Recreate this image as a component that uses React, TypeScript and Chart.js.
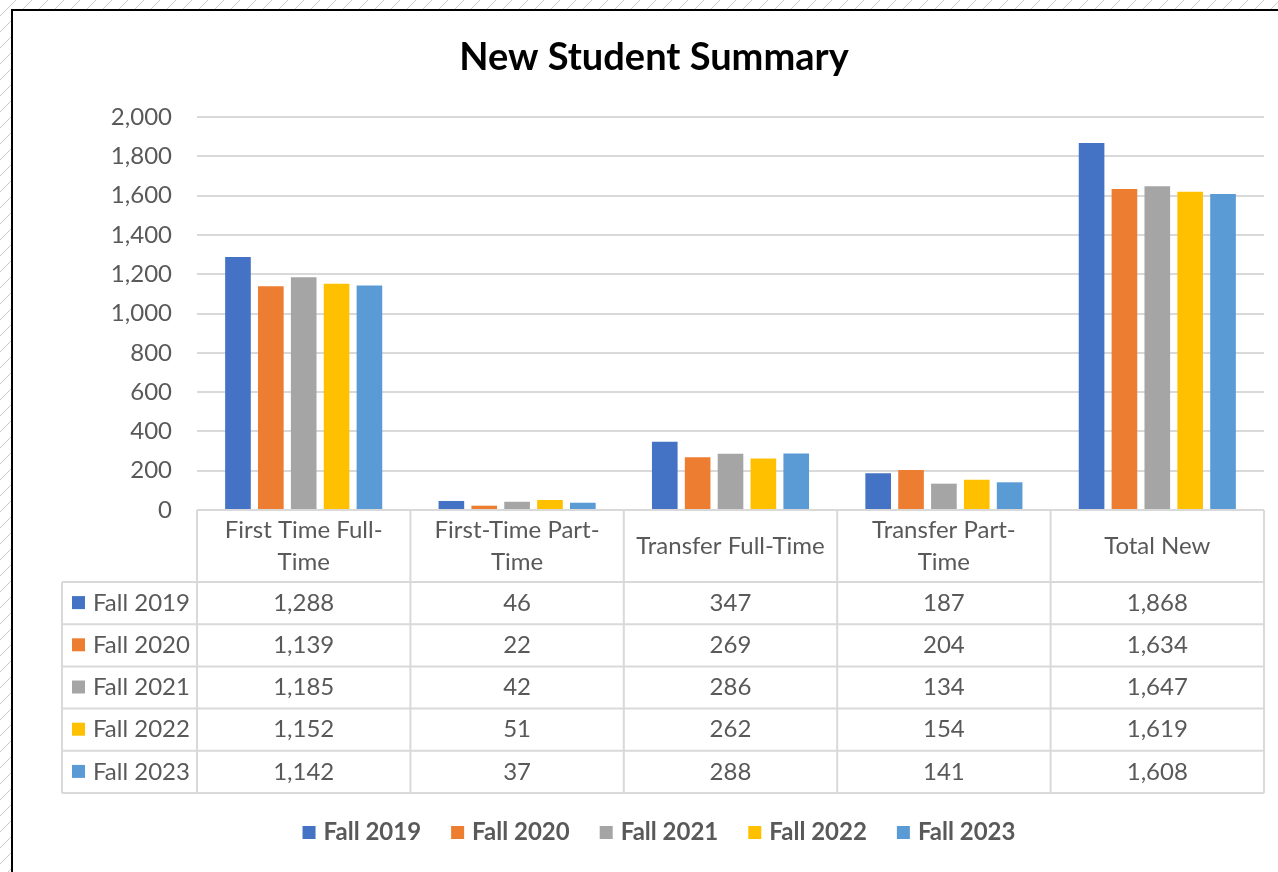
import React, { useEffect, useRef } from "react";
import { Chart, registerables } from "chart.js";

Chart.register(...registerables);

// ---------- data ----------
const chartTitle = "New Student Summary";
const categories: (string | string[])[] = [
  ["First Time Full-", "Time"],
  ["First-Time Part-", "Time"],
  "Transfer Full-Time",
  ["Transfer Part-", "Time"],
  "Total New",
];
const seriesNames = ["Fall 2019", "Fall 2020", "Fall 2021", "Fall 2022", "Fall 2023"];
const fall2019 = [1288, 46, 347, 187, 1868];
const fall2020 = [1139, 22, 269, 204, 1634];
const fall2021 = [1185, 42, 286, 134, 1647];
const fall2022 = [1152, 51, 262, 154, 1619];
const fall2023 = [1142, 37, 288, 141, 1608];
const seriesValues = [fall2019, fall2020, fall2021, fall2022, fall2023];
const seriesColors = ["#4472C4", "#ED7D31", "#A5A5A5", "#FFC000", "#5B9BD5"];
const yMin = 0;
const yMax = 2000;
const yStep = 200;

// ---------- style ----------
const W = 1278;
const H = 872;
const FONT = "Lato, 'Open Sans', sans-serif";
const TEXT = "#595959";
const LINE = "#d9d9d9";

const fmt = (v: number) => v.toLocaleString("en-US");

const framePlugin = {
  id: "frame",
  beforeDraw(chart: any) {
    const ctx = chart.ctx as CanvasRenderingContext2D;
    ctx.save();
    ctx.fillStyle = "#ffffff";
    ctx.fillRect(0, 0, W, H);
    // hatched surroundings
    ctx.beginPath();
    ctx.rect(0, 0, W, 10);
    ctx.rect(0, 0, 12, H);
    ctx.clip();
    ctx.strokeStyle = "#c9c9c9";
    ctx.lineWidth = 1;
    ctx.beginPath();
    for (let k = -H; k < W + H; k += 16) {
      ctx.moveTo(k, H);
      ctx.lineTo(k + H, 0);
    }
    ctx.stroke();
    ctx.restore();
    ctx.save();
    ctx.strokeStyle = "#000000";
    ctx.lineWidth = 2;
    ctx.beginPath();
    ctx.moveTo(12, H);
    ctx.lineTo(12, 10);
    ctx.lineTo(W, 10);
    ctx.stroke();
    ctx.restore();
  },
};

const tablePlugin = {
  id: "dataTable",
  afterDraw(chart: any) {
    const ctx = chart.ctx as CanvasRenderingContext2D;
    const area = chart.chartArea;
    const xs = chart.scales.x;
    const n = categories.length;
    const colW = (area.right - area.left) / n;
    const top = area.bottom;
    const headerH = 72;
    const rowH = 42.2;
    const leftX = 62;
    const nRows = seriesNames.length;
    const bottom = top + headerH + rowH * nRows;

    ctx.save();
    // title
    ctx.fillStyle = "#000000";
    ctx.font = `bold 38px ${FONT}`;
    ctx.textAlign = "center";
    ctx.textBaseline = "middle";
    ctx.fillText(chartTitle, 654, 58);

    // grid lines of table
    ctx.strokeStyle = LINE;
    ctx.lineWidth = 2;
    ctx.beginPath();
    ctx.moveTo(area.left, top);
    ctx.lineTo(area.right, top);
    for (let r = 0; r <= nRows; r++) {
      const y = top + headerH + r * rowH;
      ctx.moveTo(leftX, y);
      ctx.lineTo(area.right, y);
    }
    for (let c = 0; c <= n; c++) {
      const x = area.left + c * colW;
      ctx.moveTo(x, top);
      ctx.lineTo(x, bottom);
    }
    ctx.moveTo(leftX, top + headerH);
    ctx.lineTo(leftX, bottom);
    ctx.stroke();

    // header labels
    ctx.fillStyle = TEXT;
    ctx.font = `24px ${FONT}`;
    ctx.textAlign = "center";
    ctx.textBaseline = "middle";
    categories.forEach((cat, i) => {
      const cx = xs.getPixelForValue(i);
      const lines = Array.isArray(cat) ? cat : [cat];
      const lh = 32;
      const cy = top + headerH / 2;
      lines.forEach((ln, j) => {
        const y = cy + (j - (lines.length - 1) / 2) * lh;
        ctx.fillText(ln, cx, y);
      });
    });

    // rows
    seriesNames.forEach((name, r) => {
      const cy = top + headerH + r * rowH + rowH / 2;
      ctx.fillStyle = seriesColors[r];
      ctx.fillRect(72, cy - 7, 13, 13);
      ctx.fillStyle = TEXT;
      ctx.textAlign = "left";
      ctx.fillText(name, 93, cy);
      ctx.textAlign = "center";
      seriesValues[r].forEach((v, i) => {
        ctx.fillText(fmt(v), xs.getPixelForValue(i), cy);
      });
    });

    // legend
    ctx.font = `bold 24px ${FONT}`;
    const sq = 13;
    const gapSq = 8;
    const gapItem = 30;
    const widths = seriesNames.map((s) => sq + gapSq + ctx.measureText(s).width);
    const total = widths.reduce((a, b) => a + b, 0) + gapItem * (widths.length - 1);
    let x = 659 - total / 2;
    const ly = 832;
    seriesNames.forEach((s, i) => {
      ctx.fillStyle = seriesColors[i];
      ctx.fillRect(x, ly - 6, sq, sq);
      ctx.fillStyle = TEXT;
      ctx.textAlign = "left";
      ctx.fillText(s, x + sq + gapSq, ly);
      x += widths[i] + gapItem;
    });
    ctx.restore();
  },
};

export default function App() {
  const ref = useRef<HTMLCanvasElement | null>(null);
  useEffect(() => {
    if (!ref.current) return;
    const chart = new Chart(ref.current, {
      type: "bar",
      data: {
        labels: categories as any,
        datasets: seriesNames.map((name, i) => ({
          label: name,
          data: seriesValues[i],
          backgroundColor: seriesColors[i],
          borderWidth: 0,
          categoryPercentage: 0.77,
          barPercentage: 0.78,
        })),
      },
      options: {
        responsive: false,
        animation: false,
        devicePixelRatio: 1,
        layout: { padding: { left: 0, right: 14, top: 117, bottom: H - 510 } },
        plugins: {
          legend: { display: false },
          title: { display: false },
          tooltip: { enabled: false },
        },
        scales: {
          x: { display: false },
          y: {
            min: yMin,
            max: yMax,
            afterFit: (axis: any) => {
              axis.width = 197;
            },
            border: { display: false },
            grid: { color: LINE, lineWidth: 2, drawTicks: false },
            ticks: {
              stepSize: yStep,
              padding: 25,
              color: TEXT,
              font: { family: FONT, size: 24 },
              callback: (v: any) => fmt(Number(v)),
            },
          },
        },
      },
      plugins: [framePlugin, tablePlugin],
    });
    return () => chart.destroy();
  }, []);
  return (
    <div style={{ position: "absolute", left: 0, top: 0, width: W, height: H }}>
      <canvas ref={ref} width={W} height={H} style={{ display: "block" }} />
    </div>
  );
}
